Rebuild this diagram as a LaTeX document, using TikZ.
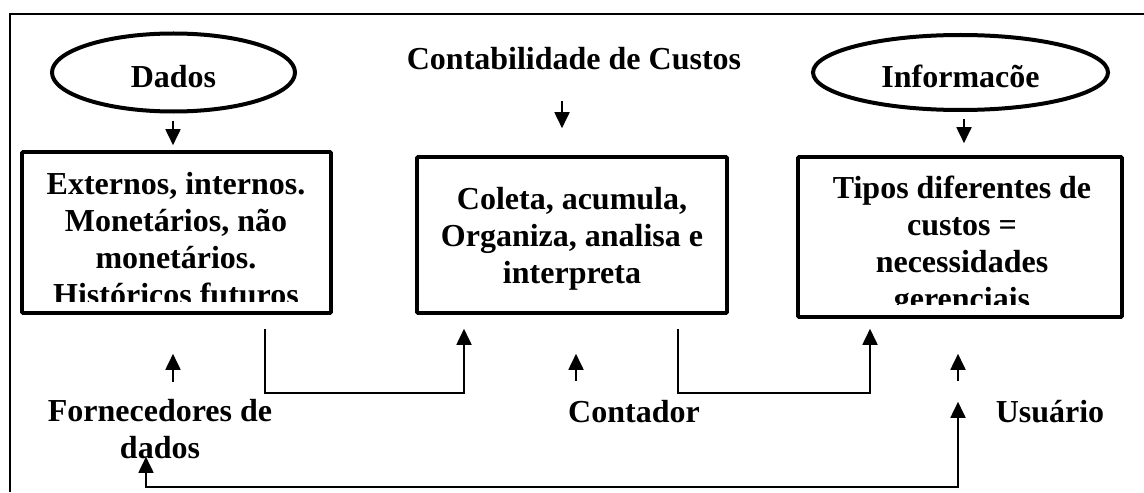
\documentclass[tikz,border=0pt]{standalone}
\usepackage{fontspec}
\setmainfont{Liberation Serif}
\usetikzlibrary{shapes.geometric,arrows.meta,calc}
\begin{document}
\begin{tikzpicture}[x=0.5pt,y=-0.5pt,
  font=\fontsize{16}{18.4}\selectfont\bfseries,
  >={Triangle[length=8pt,width=7.5pt]},
  oval/.style={ellipse,draw,line width=2pt,inner sep=0pt,text height=15pt,text depth=0pt},
  caixa/.style={draw,line width=1.8pt,rounded corners=0.5pt},
  texto/.style={align=center,anchor=base,inner sep=0pt},
  seta/.style={->,line width=0.9pt}]
\useasboundingbox (0,0) rectangle (1144,492);
\draw[line width=1.1pt] (1144,14) -- (10,14) -- (10,492);
% elipses e titulo
\node[oval,minimum width=121.5pt,minimum height=39pt] (dados) at (173.5,72.5) {Dados};
\node[oval,minimum width=147.5pt,minimum height=37.5pt] (info) at (960.5,72.5) {Informacõe};
\node[texto] (contab) at (574,70) {Contabilidade de Custos};
% caixas
\node[caixa,minimum width=154.5pt,minimum height=80.5pt] (ext) at (176.5,232.5) {};
\node[caixa,minimum width=155pt,minimum height=78pt] (cole) at (572,235) {};
\node[caixa,minimum width=162pt,minimum height=80pt] (tipos) at (960,237) {};
\begin{scope}
  \clip (ext.north west) rectangle ($(ext.south east)+(0,-13)$);
  \node[texto] at (176,305) {Externos, internos.\\Monetários, não\\monetários.\\Históricos futuros};
\end{scope}
\node[texto] at (572,283) {Coleta, acumula,\\Organiza, analisa e\\interpreta};
\begin{scope}
  \clip (tipos.north west) rectangle ($(tipos.south east)+(0,-14)$);
  \node[texto] at (962,309) {Tipos diferentes de\\custos =\\necessidades\\gerenciais};
\end{scope}
% rotulos de baixo
\node[texto] (forn) at (160,458) {Fornecedores de\\dados};
\node[texto] (cont) at (634,422) {Contador};
\node[texto] (usu) at (1050,422) {Usuário};
% setas
\draw[seta] ($(dados.south)+(-0.5,7)$) -- ($(ext.north)+(-3.5,-5)$);
\draw[seta] ($(cole.north)+(-10,-54)$) -- ($(cole.north)+(-10,-27)$);
\draw[seta] ($(info.south)+(3.5,7)$) -- ($(tipos.north)+(4,-12)$);
\draw[seta] ($(ext.south)+(-3.5,67)$) -- ($(ext.south)+(-3.5,39)$);
\draw[seta] ($(cole.south)+(4,66)$) -- ($(cole.south)+(4,39)$);
\draw[seta] ($(tipos.south)+(-2,62)$) -- ($(tipos.south)+(-2,35)$);
\draw[seta] ($(ext.south)+(88.5,14)$) |- ($(cole.south)+(-108,78)$) -- ($(cole.south)+(-108,14)$);
\draw[seta] ($(cole.south)+(106,14)$) |- ($(tipos.south)+(-90,74)$) -- ($(tipos.south)+(-90,10)$);
\draw[seta,<->] ($(ext.south)+(-30.5,142)$) |- ($(tipos.south)+(-2,168)$) -- ($(tipos.south)+(-2,83)$);
\end{tikzpicture}
\end{document}
